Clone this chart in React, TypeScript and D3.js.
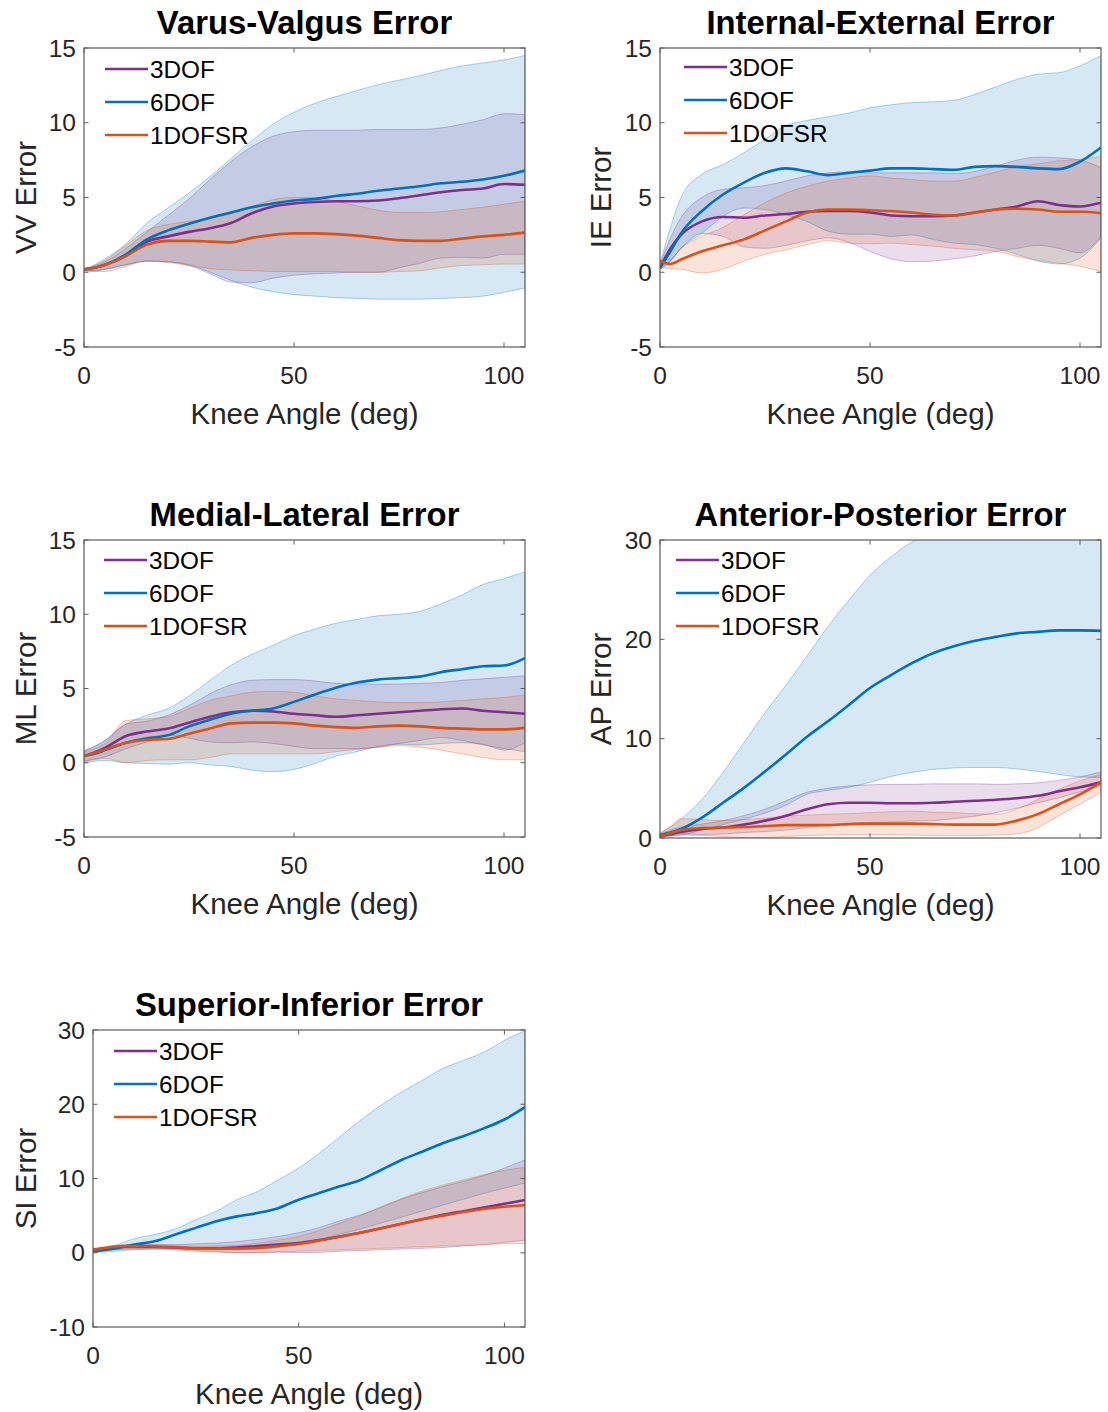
import React from 'react';
import * as d3 from 'd3';

// knee flexion angle samples (deg), shared by every panel
const ANGLES = [0, 2.5, 5, 10, 15, 20, 25, 30, 35, 40, 45, 50, 55, 60, 65, 70, 75, 80, 85, 90, 95, 100, 105];
const X_TICKS = [0, 50, 100];
const SERIES_NAMES = ['3DOF', '6DOF', '1DOFSR'];
const COLORS = ['#7E2F8E', '#0072BD', '#D95319'];

// Varus-Valgus
const vv3Mean = [0.2, 0.3, 0.5, 1.1, 2.05, 2.4, 2.7, 2.95, 3.3, 3.95, 4.4, 4.6, 4.7, 4.75, 4.75, 4.8, 4.95, 5.15, 5.35, 5.5, 5.6, 5.9, 5.85];
const vv3Hi = [0.2, 0.4, 0.7, 1.6, 2.7, 3.8, 4.9, 6.2, 7.4, 8.4, 9.1, 9.4, 9.5, 9.5, 9.5, 9.55, 9.55, 9.55, 9.65, 9.9, 10.2, 10.6, 10.55];
const vv3Lo = [0.1, 0.1, 0.2, 0.5, 0.75, 0.7, 0.45, -0.1, -0.65, -0.7, -0.4, -0.2, -0.1, -0.05, 0, 0, 0.3, 0.6, 0.95, 1.0, 0.95, 1.2, 1.2];
const vv6Mean = [0.2, 0.3, 0.5, 1.2, 2.2, 2.8, 3.25, 3.65, 4.0, 4.35, 4.6, 4.8, 4.9, 5.1, 5.25, 5.45, 5.6, 5.75, 5.95, 6.05, 6.2, 6.45, 6.8];
const vv6Hi = [0.2, 0.5, 0.9, 1.9, 3.3, 4.3, 5.3, 6.4, 7.6, 8.8, 9.9, 10.7, 11.3, 11.75, 12.15, 12.55, 12.85, 13.15, 13.5, 13.8, 14.0, 14.2, 14.5];
const vv6Lo = [0.1, 0.1, 0.2, 0.5, 0.75, 0.7, 0.5, 0.0, -0.55, -1.0, -1.3, -1.5, -1.6, -1.7, -1.75, -1.8, -1.8, -1.8, -1.75, -1.7, -1.6, -1.35, -1.05];
const vv1Mean = [0.2, 0.3, 0.5, 1.1, 1.85, 2.1, 2.1, 2.05, 2.0, 2.3, 2.5, 2.6, 2.6, 2.55, 2.45, 2.3, 2.15, 2.1, 2.1, 2.25, 2.4, 2.5, 2.65];
const vv1Hi = [0.2, 0.45, 0.8, 1.8, 2.8, 3.2, 3.4, 3.6, 3.9, 4.4, 4.85, 5.0, 5.0, 4.75, 4.45, 4.15, 4.0, 4.0, 4.05, 4.2, 4.35, 4.55, 4.75];
const vv1Lo = [0.1, 0.05, 0.05, 0.4, 0.75, 0.65, 0.45, 0.25, 0.15, 0.1, 0.05, 0.05, 0.05, 0.05, 0, 0, 0.05, 0.1, 0.3, 0.45, 0.5, 0.55, 0.55];

// Internal-External
const ie3Mean = [0.3, 1.6, 2.5, 3.4, 3.7, 3.65, 3.8, 3.9, 4.05, 4.1, 4.1, 4.0, 3.8, 3.75, 3.75, 3.8, 4.0, 4.2, 4.4, 4.75, 4.5, 4.4, 4.65];
const ie3Hi = [0.5, 2.3, 3.65, 5.0, 5.55, 5.65, 5.8, 6.1, 6.45, 6.65, 6.7, 6.65, 6.65, 6.65, 6.65, 6.6, 6.75, 7.1, 7.5, 7.7, 7.65, 7.5, 7.0];
const ie3Lo = [0.2, 0.75, 1.6, 2.6, 2.4, 1.7, 1.6, 1.8, 2.1, 2.3, 2.0, 1.4, 0.9, 0.7, 0.75, 0.9, 1.1, 1.4, 1.6, 1.8, 1.6, 1.3, 2.4];
const ie6Mean = [0.3, 1.4, 2.6, 4.1, 5.2, 6.0, 6.65, 6.95, 6.75, 6.5, 6.65, 6.8, 6.95, 6.95, 6.9, 6.85, 7.05, 7.1, 7.05, 6.95, 6.9, 7.4, 8.35];
const ie6Hi = [0.5, 3.0, 5.0, 6.55, 7.2, 8.0, 8.9, 9.8, 10.15, 10.4, 10.65, 11.0, 11.2, 11.35, 11.4, 11.5, 11.9, 12.4, 12.9, 13.25, 13.35, 13.8, 14.5];
const ie6Lo = [0.2, 0.75, 1.6, 2.6, 3.75, 4.3, 4.2, 3.85, 3.4, 2.75, 2.55, 2.55, 2.4, 2.5, 2.2, 1.95, 1.85, 1.6, 1.2, 0.75, 0.55, 0.95, 2.3];
const ie1Mean = [0.75, 0.55, 0.85, 1.4, 1.8, 2.2, 2.8, 3.4, 4.0, 4.2, 4.2, 4.15, 4.1, 4.0, 3.85, 3.8, 4.0, 4.2, 4.25, 4.2, 4.05, 4.05, 3.95];
const ie1Hi = [0.8, 0.9, 1.6, 2.4, 3.0, 3.85, 4.65, 5.3, 5.75, 6.1, 6.3, 6.45, 6.3, 6.2, 6.1, 6.1, 6.35, 6.7, 7.05, 7.25, 7.45, 7.55, 7.75];
const ie1Lo = [0.3, 0.25, 0.2, -0.05, 0.2, 0.75, 1.2, 1.5, 1.85, 2.1, 1.95, 1.9, 1.95, 1.85, 1.75, 1.6, 1.5, 1.4, 1.05, 0.8, 0.6, 0.4, 0.05];

// Medial-Lateral
const ml3Mean = [0.45, 0.7, 1.0, 1.8, 2.1, 2.3, 2.7, 3.1, 3.4, 3.5, 3.45, 3.3, 3.2, 3.1, 3.2, 3.3, 3.4, 3.5, 3.6, 3.65, 3.5, 3.4, 3.3];
const ml3Hi = [0.8, 1.1, 1.5, 2.6, 2.8, 3.2, 3.85, 4.65, 5.25, 5.55, 5.6, 5.6, 5.5, 5.35, 5.3, 5.3, 5.3, 5.35, 5.4, 5.55, 5.65, 5.75, 5.85];
const ml3Lo = [0.1, 0.25, 0.4, 0.95, 1.4, 1.85, 1.65, 1.4, 1.35, 1.4, 1.3, 1.1, 0.95, 0.95, 0.95, 1.05, 1.3, 1.5, 1.7, 1.5, 1.2, 0.95, 0.75];
const ml6Mean = [0.45, 0.6, 0.85, 1.35, 1.65, 1.85, 2.45, 2.9, 3.3, 3.5, 3.65, 4.1, 4.6, 5.05, 5.4, 5.6, 5.7, 5.8, 6.1, 6.3, 6.5, 6.55, 7.05];
const ml6Hi = [0.8, 1.1, 1.5, 2.6, 3.2, 3.65, 4.5, 5.55, 6.55, 7.3, 7.9, 8.55, 9.0, 9.4, 9.65, 9.9, 10.0, 10.2, 10.7, 11.3, 12.0, 12.4, 12.85];
const ml6Lo = [0.0, 0.1, 0.15, 0.0, -0.05, -0.1, 0.0, -0.15, -0.25, -0.5, -0.6, -0.45, -0.05, 0.45, 0.75, 1.1, 1.25, 1.2, 1.3, 1.35, 1.25, 0.85, 1.35];
const ml1Mean = [0.45, 0.65, 0.9, 1.35, 1.55, 1.6, 1.95, 2.3, 2.65, 2.7, 2.7, 2.65, 2.5, 2.4, 2.35, 2.45, 2.5, 2.45, 2.35, 2.3, 2.25, 2.25, 2.35];
const ml1Hi = [0.7, 0.95, 1.3, 2.85, 2.95, 3.1, 3.65, 4.2, 4.5, 4.75, 4.8, 4.75, 4.5, 4.3, 4.2, 4.1, 4.05, 4.05, 4.1, 4.2, 4.3, 4.4, 4.55];
const ml1Lo = [0.1, 0.2, 0.3, 0.0, 0.15, 0.2, 0.2, 0.35, 0.6, 0.6, 0.6, 0.6, 0.6, 0.75, 0.9, 1.05, 1.15, 1.05, 0.85, 0.6, 0.35, 0.2, 0.2];

// Anterior-Posterior
const ap3Mean = [0.2, 0.4, 0.6, 0.9, 1.05, 1.35, 1.75, 2.25, 2.9, 3.4, 3.55, 3.55, 3.5, 3.5, 3.55, 3.65, 3.75, 3.85, 4.0, 4.25, 4.7, 5.1, 5.6];
const ap3Hi = [0.4, 0.8, 1.1, 1.4, 1.75, 2.25, 2.9, 3.75, 4.6, 5.0, 5.25, 5.35, 5.4, 5.4, 5.45, 5.45, 5.45, 5.4, 5.45, 5.55, 5.8, 6.15, 6.65];
const ap3Lo = [0.1, 0.25, 0.4, 0.35, 0.4, 0.55, 0.65, 0.8, 1.05, 1.35, 1.45, 1.55, 1.6, 1.7, 1.75, 1.95, 2.2, 2.55, 3.0, 3.55, 4.05, 4.65, 5.25];
const ap6Mean = [0.3, 0.55, 0.9, 2.05, 3.55, 5.05, 6.7, 8.4, 10.2, 11.75, 13.4, 15.1, 16.4, 17.6, 18.6, 19.3, 19.85, 20.25, 20.6, 20.75, 20.9, 20.9, 20.85];
const ap6Hi = [0.5, 1.1, 1.9, 3.9, 6.6, 9.6, 12.6, 15.4, 18.3, 21.3, 23.95, 26.45, 28.3, 29.8, 30.8, 31.8, 32.5, 33.0, 33.3, 33.5, 33.6, 33.6, 33.5];
const ap6Lo = [0.1, 0.2, 0.3, 0.8, 1.35, 1.9, 2.5, 3.3, 4.4, 4.8, 5.1, 5.6, 6.2, 6.6, 6.9, 7.05, 7.1, 7.1, 6.95, 6.7, 6.4, 6.15, 6.1];
const ap1Mean = [0.2, 0.5, 0.8, 1.0, 1.05, 1.1, 1.2, 1.3, 1.3, 1.3, 1.4, 1.45, 1.45, 1.45, 1.4, 1.35, 1.35, 1.35, 1.75, 2.4, 3.4, 4.4, 5.6];
const ap1Hi = [0.4, 1.2, 1.95, 1.85, 1.75, 1.85, 2.0, 2.2, 2.3, 2.4, 2.45, 2.55, 2.65, 2.7, 2.6, 2.55, 2.45, 2.4, 2.9, 3.9, 4.9, 5.75, 6.4];
const ap1Lo = [0.05, 0.2, 0.3, 0.25, 0.15, 0.05, 0.05, 0.15, 0.25, 0.3, 0.35, 0.35, 0.35, 0.3, 0.25, 0.25, 0.25, 0.3, 0.4, 1.05, 2.25, 3.4, 4.6];

// Superior-Inferior
const si3Mean = [0.4, 0.55, 0.7, 0.85, 0.8, 0.7, 0.6, 0.6, 0.7, 0.9, 1.1, 1.3, 1.7, 2.2, 2.7, 3.3, 3.9, 4.5, 5.1, 5.6, 6.1, 6.6, 7.1];
const si3Hi = [0.5, 0.7, 0.9, 1.1, 1.1, 1.1, 1.2, 1.3, 1.5, 1.8, 2.2, 2.7, 3.4, 4.3, 5.1, 6.1, 7.2, 8.1, 8.9, 9.6, 10.4, 11.4, 12.5];
const si3Lo = [0.2, 0.3, 0.4, 0.5, 0.5, 0.4, 0.2, 0.1, 0.0, 0.05, 0.1, 0.0, 0.05, 0.2, 0.3, 0.4, 0.5, 0.6, 0.7, 0.9, 1.1, 1.4, 1.7];
const si6Mean = [0.2, 0.35, 0.55, 1.1, 1.55, 2.45, 3.35, 4.25, 4.9, 5.35, 6.0, 7.15, 8.05, 8.95, 9.8, 11.15, 12.5, 13.6, 14.75, 15.7, 16.75, 17.95, 19.6];
const si6Hi = [0.2, 0.5, 0.9, 1.9, 2.45, 3.2, 4.45, 5.6, 7.15, 8.25, 9.8, 11.4, 13.4, 15.6, 17.85, 19.85, 21.65, 23.2, 24.8, 25.9, 27.0, 28.6, 29.9];
const si6Lo = [0.0, 0.1, 0.2, 0.4, 0.5, 0.6, 0.5, 0.4, 0.4, 0.5, 0.7, 1.2, 1.8, 2.5, 3.2, 4.0, 4.8, 5.6, 6.4, 7.2, 8.0, 8.7, 9.4];
const si1Mean = [0.4, 0.6, 0.8, 0.9, 0.85, 0.75, 0.6, 0.55, 0.55, 0.65, 0.9, 1.2, 1.65, 2.15, 2.7, 3.3, 3.9, 4.5, 5.0, 5.5, 5.9, 6.2, 6.4];
const si1Hi = [0.6, 0.8, 1.0, 1.1, 1.05, 0.95, 0.85, 0.9, 1.0, 1.3, 1.7, 2.2, 3.0, 4.0, 5.0, 6.2, 7.3, 8.3, 9.1, 9.8, 10.5, 11.1, 11.5];
const si1Lo = [0.2, 0.35, 0.5, 0.6, 0.6, 0.5, 0.35, 0.2, 0.0, 0.0, 0.1, 0.2, 0.3, 0.4, 0.5, 0.6, 0.7, 0.8, 0.9, 1.0, 1.1, 1.2, 1.25];

const Y_TICKS_15 = [-5, 0, 5, 10, 15];
const Y_TICKS_30 = [0, 10, 20, 30];
const Y_TICKS_SI = [-10, 0, 10, 20, 30];

const FONT = '"Liberation Sans", Arial, Helvetica, sans-serif';

const panels = [
  {
    id: 'vv', title: 'Varus-Valgus Error', yLabel: 'VV Error', yDomain: [-5, 15], yTicks: Y_TICKS_15,
    left: 84, top: 48, width: 441, height: 299, yLabelX: 25, legendDx: 21, legendDy: 21,
    series: [[vv3Mean, vv3Hi, vv3Lo], [vv6Mean, vv6Hi, vv6Lo], [vv1Mean, vv1Hi, vv1Lo]],
  },
  {
    id: 'ie', title: 'Internal-External Error', yLabel: 'IE Error', yDomain: [-5, 15], yTicks: Y_TICKS_15,
    left: 660, top: 48, width: 441, height: 299, yLabelX: 600, legendDx: 24, legendDy: 19,
    series: [[ie3Mean, ie3Hi, ie3Lo], [ie6Mean, ie6Hi, ie6Lo], [ie1Mean, ie1Hi, ie1Lo]],
  },
  {
    id: 'ml', title: 'Medial-Lateral Error', yLabel: 'ML Error', yDomain: [-5, 15], yTicks: Y_TICKS_15,
    left: 84, top: 540, width: 441, height: 297, yLabelX: 25, legendDx: 20, legendDy: 20,
    series: [[ml3Mean, ml3Hi, ml3Lo], [ml6Mean, ml6Hi, ml6Lo], [ml1Mean, ml1Hi, ml1Lo]],
  },
  {
    id: 'ap', title: 'Anterior-Posterior Error', yLabel: 'AP Error', yDomain: [0, 30], yTicks: Y_TICKS_30,
    left: 660, top: 540, width: 441, height: 298, yLabelX: 600, legendDx: 16, legendDy: 20,
    series: [[ap3Mean, ap3Hi, ap3Lo], [ap6Mean, ap6Hi, ap6Lo], [ap1Mean, ap1Hi, ap1Lo]],
  },
  {
    id: 'si', title: 'Superior-Inferior Error', yLabel: 'SI Error', yDomain: [-10, 30], yTicks: Y_TICKS_SI,
    left: 93, top: 1030, width: 432, height: 297, yLabelX: 25, legendDx: 21, legendDy: 21,
    series: [[si3Mean, si3Hi, si3Lo], [si6Mean, si6Hi, si6Lo], [si1Mean, si1Hi, si1Lo]],
  },
];

const AXIS_COLOR = '#5c5c5c';
const TEXT_COLOR = '#262626';
const TICK_LEN = 4.5;

function Panel({ p }: { p: any }) {
  const x = d3.scaleLinear().domain([0, 105]).range([p.left, p.left + p.width]);
  const y = d3.scaleLinear().domain(p.yDomain).range([p.top + p.height, p.top]);
  const bottom = p.top + p.height;
  const right = p.left + p.width;

  const band = (hi: number[], lo: number[]) =>
    d3.area<number>()
      .x((a) => x(a))
      .y0((_, i) => y(lo[i]))
      .y1((_, i) => y(hi[i]))
      .curve(d3.curveMonotoneX)(ANGLES) || '';

  const line = (vals: number[]) =>
    d3.line<number>()
      .x((a) => x(a))
      .y((_, i) => y(vals[i]))
      .curve(d3.curveMonotoneX)(ANGLES) || '';

  const clipId = `clip-${p.id}`;

  return (
    <g>
      <defs>
        <clipPath id={clipId}>
          <rect x={p.left} y={p.top} width={p.width} height={p.height} />
        </clipPath>
      </defs>

      <g clipPath={`url(#${clipId})`}>
        {p.series.map((s: number[][], k: number) => (
          <path key={'b' + k} d={band(s[1], s[2])} fill={COLORS[k]} fillOpacity={0.16}
            stroke={COLORS[k]} strokeOpacity={0.32} strokeWidth={1} />
        ))}
        {p.series.map((s: number[][], k: number) => (
          <path key={'m' + k} d={line(s[0])} fill="none" stroke={COLORS[k]} strokeWidth={2.6}
            strokeLinejoin="round" />
        ))}
      </g>

      {/* box */}
      <rect x={p.left} y={p.top} width={p.width} height={p.height} fill="none" stroke={AXIS_COLOR} strokeWidth={1.2} />

      {X_TICKS.map((t) => (
        <g key={'xt' + t}>
          <line x1={x(t)} x2={x(t)} y1={bottom} y2={bottom - TICK_LEN} stroke={AXIS_COLOR} />
          <line x1={x(t)} x2={x(t)} y1={p.top} y2={p.top + TICK_LEN} stroke={AXIS_COLOR} />
          <text x={x(t)} y={bottom + 36.5} textAnchor="middle" fontSize={24.5} fill={TEXT_COLOR}>{t}</text>
        </g>
      ))}

      {p.yTicks.map((t: number) => (
        <g key={'yt' + t}>
          <line x1={p.left} x2={p.left + TICK_LEN} y1={y(t)} y2={y(t)} stroke={AXIS_COLOR} />
          <line x1={right} x2={right - TICK_LEN} y1={y(t)} y2={y(t)} stroke={AXIS_COLOR} />
          <text x={p.left - 8} y={y(t) + 8.7} textAnchor="end" fontSize={24.5} fill={TEXT_COLOR}>{t}</text>
        </g>
      ))}

      <text x={(p.left + right) / 2} y={p.top - 14} textAnchor="middle" fontSize={32.8} fontWeight="bold" fill="#000">
        {p.title}
      </text>

      <text x={(p.left + right) / 2} y={bottom + 76.5} textAnchor="middle" fontSize={29.5} fill={TEXT_COLOR}>
        Knee Angle (deg)
      </text>

      <text transform={`translate(${p.yLabelX + 10.6},${(p.top + bottom) / 2}) rotate(-90)`}
        textAnchor="middle" fontSize={29.5} fill={TEXT_COLOR}>
        {p.yLabel}
      </text>

      {SERIES_NAMES.map((name, k) => {
        const ly = p.top + p.legendDy + k * 33;
        const lx = p.left + p.legendDx;
        return (
          <g key={'lg' + k}>
            <line x1={lx} x2={lx + 43} y1={ly} y2={ly} stroke={COLORS[k]} strokeWidth={2.5} />
            <text x={lx + 45} y={ly + 8.7} fontSize={24.3} fill="#000">{name}</text>
          </g>
        );
      })}
    </g>
  );
}

export default function App() {
  return (
    <svg width={1108} height={1412} viewBox="0 0 1108 1412"
      style={{ position: 'absolute', left: 0, top: 0, background: '#fff', fontFamily: FONT }}>
      <rect width={1108} height={1412} fill="#fff" />
      {panels.map((p) => <Panel key={p.id} p={p} />)}
    </svg>
  );
}
